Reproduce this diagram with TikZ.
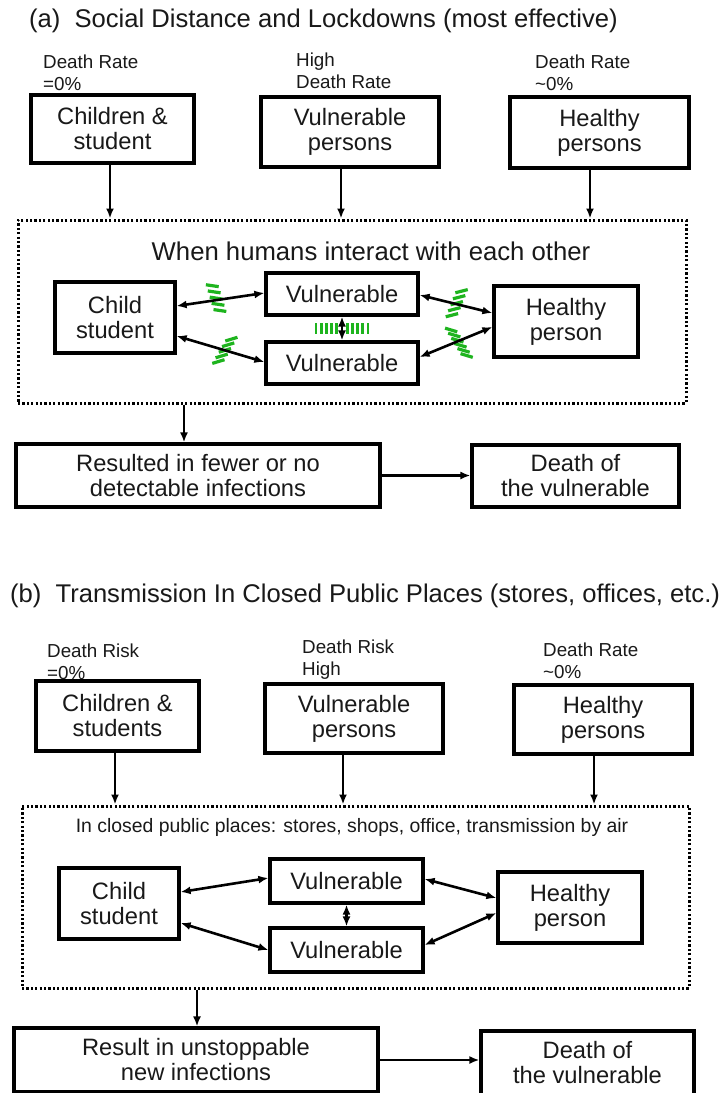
\documentclass[tikz,border=0pt]{standalone}
\usepackage{fontspec}
\setmainfont{Liberation Sans}
\usetikzlibrary{arrows.meta,calc}
\definecolor{hgreen}{RGB}{30,180,30}
\definecolor{ink}{RGB}{25,25,25}
\begin{document}
\begin{tikzpicture}[x=1pt,y=-1pt,
 every node/.style={text=ink},
 box/.style={draw=black, line width=3.2pt, inner sep=0pt, align=center, font=\fontsize{23.7}{25}\selectfont},
 lbl/.style={anchor=base west, inner sep=0pt, font=\fontsize{18.8}{21}\selectfont},
 ttl/.style={anchor=base west, inner sep=0pt, font=\fontsize{25.6}{30}\selectfont},
 dotbox/.style={draw=black, line width=3pt, dash pattern=on 2.2pt off 2.2pt, inner sep=0pt},
 arr/.style={line width=2.6pt, -{Latex[length=10pt,width=8pt]}},
 darr/.style={line width=2.6pt, {Latex[length=10pt,width=8pt]}-{Latex[length=10pt,width=8pt]}},
 hatch/.style={draw=hgreen, line width=3.2pt},
]
\fill[white] (0,0) rectangle (719,1093);
\useasboundingbox (0,0) rectangle (719,1093);

% ---------------- (a) ----------------
\node[ttl] (T1) at (29,27) {(a)\hspace{0.55em}Social Distance and Lockdowns (most effective)};

\node[lbl] (L1a) at (43,68) {Death Rate};
\node[lbl] (L1b) at (43,90) {=0\%};
\node[lbl] (L2a) at (296,66) {High};
\node[lbl] (L2b) at (296,88) {Death Rate};
\node[lbl] (L3a) at (535,68) {Death Rate};
\node[lbl] (L3b) at (535,90) {\char"007E 0\%};

\node[box, minimum width=163pt, minimum height=68pt] (CS1) at (112.5,129) {Children \&\\student};
\node[box, minimum width=178pt, minimum height=70pt] (VP1) at (350,132) {Vulnerable\\persons};
\node[box, minimum width=179pt, minimum height=71pt] (HP1) at (599.5,132.5) {Healthy\\persons};

\node[dotbox, minimum width=668pt, minimum height=183pt] (D1) at (352,311.5) {};
\node[anchor=base, inner sep=0pt, font=\fontsize{25.7}{28}\selectfont] (W1) at (371,260) {When humans interact with each other};

\draw[arr] ([xshift=-2.5pt]CS1.south) -- ([xshift=-2.5pt]CS1.south |- D1.north);
\draw[arr] ([xshift=-9pt]VP1.south) -- ([xshift=-9pt]VP1.south |- D1.north);
\draw[arr] ([xshift=-9.5pt]HP1.south) -- ([xshift=-9.5pt]HP1.south |- D1.north);

\node[box, minimum width=120pt, minimum height=71pt] (CH1) at (115,317.5) {Child\\student};
\node[box, minimum width=152pt, minimum height=42pt] (VT1) at (342,294) {Vulnerable};
\node[box, minimum width=152pt, minimum height=42pt] (VB1) at (342,363) {Vulnerable};
\node[box, minimum width=144pt, minimum height=71pt] (HE1) at (566,321.5) {Healthy\\person};

\coordinate (p1) at ($(CH1.east)+(0,-11.5)$); \coordinate (q1) at ($(VT1.west)+(0,-1)$);
\coordinate (p2) at ($(CH1.east)+(0,18.5)$);  \coordinate (q2) at ($(VB1.west)+(0,-1)$);
\coordinate (p3) at ($(VT1.east)+(0,1)$);     \coordinate (q3) at ($(HE1.west)+(0,-8.5)$);
\coordinate (p4) at ($(VB1.east)+(0,-6)$);    \coordinate (q4) at ($(HE1.west)+(0,5.5)$);

% green blocking hatches
\coordinate (h1) at ($(p1)!0.45!(q1)+(0,-2)$);
\foreach \i in {-2,...,2}
  \draw[hatch] ($(h1)+({\i*1.9-6.4},{\i*6.2-1})$) -- ++(12.8,1.9);
\coordinate (h2) at ($(p2)!0.55!(q2)$);
\foreach \i in {-2,...,2}
  \draw[hatch] ($(h2)+({\i*(-3.25)-6.1},{\i*5.6+1.9})$) -- ++(12.2,-3.7);
\coordinate (h3) at ($(p3)!0.51!(q3)+(0,-1)$);
\foreach \i in {-2,...,2}
  \draw[hatch] ($(h3)+({\i*(-2.4)-6.2},{\i*6.0+1.6})$) -- ++(12.4,-3.2);
\coordinate (h4) at ($(p4)!0.54!(q4)+(0,2)$);
\foreach \i in {-2.5,-1.5,-0.5,0.5,1.5,2.5}
  \draw[hatch] ($(h4)+({\i*3.1-6.1},{\i*5.1-1.9})$) -- ++(12.2,3.7);
\coordinate (h5) at ($(VT1.south)!0.5!(VB1.north)$);
\foreach \i in {-5,...,5}
  \draw[hatch, line width=2.8pt] ($(h5)+({\i*5.2},-5.5)$) -- ++(0,11);

\draw[darr] (p1) -- (q1);
\draw[darr] (p2) -- (q2);
\draw[darr] (p3) -- (q3);
\draw[darr] (p4) -- (q4);
\draw[darr] (VT1.south) -- (VB1.north);

\node[box, minimum width=364pt, minimum height=63pt] (R1) at (198,475.5) {Resulted in fewer or no\\detectable infections};
\node[box, minimum width=207pt, minimum height=62pt] (E1) at (575.5,476) {Death of\\the vulnerable};
\draw[arr] ([xshift=-14pt]R1.north |- D1.south) -- ([xshift=-14pt]R1.north);
\draw[arr] (R1.east) -- (R1.east -| E1.west);

% ---------------- (b) ----------------
\node[ttl] (T2) at (10,602) {(b)\hspace{0.55em}Transmission In Closed Public Places (stores, offices, etc.)};

\node[lbl] (M1a) at (47,657) {Death Risk};
\node[lbl] (M1b) at (47,679) {=0\%};
\node[lbl] (M2a) at (302,653) {Death Risk};
\node[lbl] (M2b) at (302,675) {High};
\node[lbl] (M3a) at (543,656) {Death Rate};
\node[lbl] (M3b) at (543,678) {\char"007E 0\%};

\node[box, minimum width=163pt, minimum height=70pt] (CS2) at (117.5,716) {Children \&\\students};
\node[box, minimum width=178pt, minimum height=69pt] (VP2) at (354,718.5) {Vulnerable\\persons};
\node[box, minimum width=178pt, minimum height=69pt] (HP2) at (603,719.5) {Healthy\\persons};

\node[dotbox, minimum width=667pt, minimum height=182pt] (D2) at (355.5,897) {};
\node[anchor=base, inner sep=0pt, font=\fontsize{19.4}{21}\selectfont] (W2) at (352,832) {In closed public places: stores, shops, office, transmission by air};

\draw[arr] ([xshift=-2.5pt]CS2.south) -- ([xshift=-2.5pt]CS2.south |- D2.north);
\draw[arr] ([xshift=-11pt]VP2.south) -- ([xshift=-11pt]VP2.south |- D2.north);
\draw[arr] ([xshift=-9pt]HP2.south) -- ([xshift=-9pt]HP2.south |- D2.north);

\node[box, minimum width=120pt, minimum height=71pt] (CH2) at (119,903.5) {Child\\student};
\node[box, minimum width=153pt, minimum height=44pt] (VT2) at (346.5,881) {Vulnerable};
\node[box, minimum width=153pt, minimum height=44pt] (VB2) at (346.5,950) {Vulnerable};
\node[box, minimum width=144pt, minimum height=71pt] (HE2) at (570,907.5) {Healthy\\person};

\draw[darr] ($(CH2.east)+(0,-11.5)$) -- ($(VT2.west)+(0,-3)$);
\draw[darr] ($(CH2.east)+(0,19.5)$) -- (VB2.west);
\draw[darr] ($(VT2.east)+(0,-2)$) -- ($(HE2.west)+(0,-9.5)$);
\draw[darr] ($(VB2.east)+(0,-5)$) -- ($(HE2.west)+(0,5.5)$);
\draw[darr] (VT2.south) -- (VB2.north);

\node[box, minimum width=364pt, minimum height=64pt] (R2) at (196,1060) {Result in unstoppable\\new infections};
\node[box, minimum width=213pt, minimum height=64pt] (E2) at (587.5,1063) {Death of\\the vulnerable};
\draw[arr] ([xshift=1pt]R2.north |- D2.south) -- ([xshift=1pt]R2.north);
\draw[arr] (R2.east) -- (R2.east -| E2.west);
\end{tikzpicture}
\end{document}
